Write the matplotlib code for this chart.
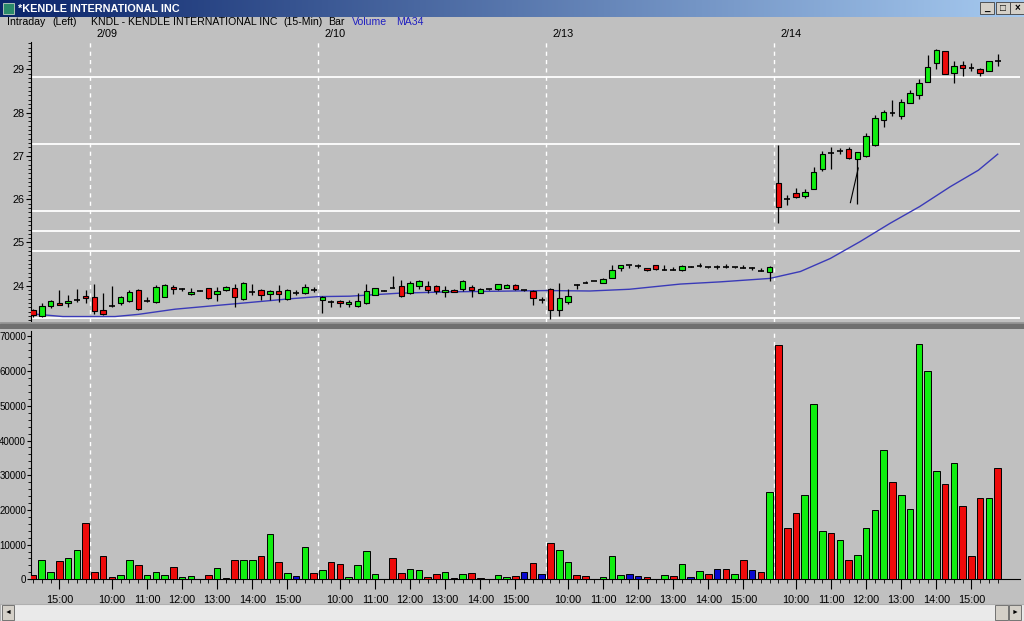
import numpy as np
import matplotlib.pyplot as plt
from matplotlib.patches import Rectangle
from matplotlib.ticker import MultipleLocator, FixedLocator

plt.rcParams['font.family'] = ['Liberation Sans', 'DejaVu Sans']

W, H = 1024, 621

# 15-min bars, 2/08 afternoon through 2/14
opens = [23.43, 23.30, 23.53, 23.595, 23.595, 23.665, 23.76,
         23.73, 23.43, 23.53, 23.595, 23.66, 23.90, 23.66, 23.63, 23.75, 23.98,
         23.91, 23.80, 23.89, 23.94, 23.81, 23.90, 23.96, 23.70, 23.86, 23.90,
         23.80, 23.88, 23.69, 23.84, 23.83, 23.91,
         23.67, 23.63, 23.66, 23.58, 23.53, 23.60, 23.79, 23.89, 23.96, 24.00,
         23.83, 24.00, 24.00, 24.00, 23.85, 23.90, 23.92, 23.98, 23.84, 23.92,
         23.92, 23.96, 24.02, 23.90, 23.89, 23.67,
         23.92, 23.43, 23.63, 24.02, 24.07, 24.11, 24.07, 24.18, 24.40, 24.47,
         24.46, 24.40, 24.47, 24.36, 24.36, 24.36, 24.44, 24.44, 24.43, 24.43,
         24.43, 24.43, 24.40, 24.40, 24.35, 24.32,
         26.37, 26.00, 26.135, 26.07, 26.24, 26.69, 27.07, 27.12, 27.15, 26.92,
         27.00, 27.25, 27.84, 28.02, 27.91, 28.23, 28.41, 28.70, 29.14, 29.43,
         28.91, 29.10, 29.03, 29.00, 28.95, 29.19]
highs = [23.46, 23.60, 23.67, 23.90, 23.79, 23.92, 23.90,
         24.03, 23.83, 23.99, 23.76, 23.90, 23.93, 23.73, 24.01, 24.03, 24.01,
         23.95, 23.96, 23.90, 23.95, 23.98, 24.00, 24.03, 24.08, 24.03, 23.92,
         23.90, 24.02, 23.92, 23.90, 24.03, 23.98,
         23.76, 23.67, 23.67, 23.67, 23.83, 24.04, 23.95, 23.90, 24.23, 24.13,
         24.12, 24.13, 24.10, 24.02, 24.00, 23.92, 24.13, 24.02, 23.94, 23.93,
         24.05, 24.03, 24.03, 23.91, 23.90, 23.73,
         23.94, 24.06, 23.92, 24.04, 24.10, 24.12, 24.17, 24.48, 24.49, 24.47,
         24.50, 24.41, 24.48, 24.47, 24.44, 24.49, 24.45, 24.52, 24.44, 24.47,
         24.50, 24.44, 24.47, 24.44, 24.41, 24.46,
         27.25, 26.10, 26.26, 26.24, 26.74, 27.12, 27.21, 27.18, 27.21, 27.09,
         27.54, 27.94, 28.06, 28.29, 28.31, 28.51, 28.77, 29.33, 29.46, 29.43,
         29.18, 29.18, 29.15, 29.02, 29.20, 29.35]
lows = [23.27, 23.27, 23.48, 23.55, 23.52, 23.63, 23.60,
        23.36, 23.32, 23.52, 23.56, 23.63, 23.44, 23.63, 23.61, 23.73, 23.81,
        23.87, 23.79, 23.88, 23.70, 23.66, 23.88, 23.52, 23.67, 23.78, 23.67,
        23.67, 23.63, 23.67, 23.79, 23.80, 23.86,
        23.38, 23.52, 23.52, 23.52, 23.52, 23.58, 23.78, 23.88, 23.95, 23.75,
        23.80, 23.92, 23.83, 23.81, 23.73, 23.85, 23.89, 23.75, 23.83, 23.91,
        23.90, 23.95, 23.90, 23.89, 23.56, 23.61,
        23.23, 23.30, 23.59, 23.92, 24.06, 24.10, 24.06, 24.17, 24.35, 24.40,
        24.41, 24.35, 24.37, 24.36, 24.36, 24.35, 24.44, 24.44, 24.42, 24.38,
        24.42, 24.42, 24.40, 24.36, 24.35, 24.12,
        25.46, 25.86, 26.02, 26.02, 26.23, 26.66, 26.70, 27.04, 26.92, 25.90,
        26.97, 27.23, 27.66, 27.91, 27.86, 28.21, 28.31, 28.70, 29.00, 28.89,
        28.68, 28.85, 28.97, 28.85, 28.95, 29.08]
closes = [23.32, 23.53, 23.64, 23.557, 23.64, 23.665, 23.71,
          23.42, 23.35, 23.53, 23.73, 23.86, 23.47, 23.66, 23.98, 24.02, 23.92,
          23.92, 23.86, 23.89, 23.72, 23.88, 23.98, 23.75, 24.06, 23.86, 23.79,
          23.88, 23.81, 23.90, 23.84, 23.98, 23.91,
          23.75, 23.63, 23.61, 23.63, 23.64, 23.89, 23.94, 23.89, 23.96, 23.76,
          24.06, 24.12, 23.90, 23.89, 23.90, 23.86, 24.11, 23.90, 23.92, 23.92,
          24.03, 24.02, 23.92, 23.90, 23.71, 23.67,
          23.43, 23.71, 23.76, 24.02, 24.07, 24.11, 24.15, 24.36, 24.47, 24.47,
          24.46, 24.36, 24.38, 24.36, 24.36, 24.46, 24.44, 24.46, 24.43, 24.43,
          24.43, 24.43, 24.40, 24.40, 24.35, 24.43,
          25.83, 26.00, 26.06, 26.17, 26.63, 27.04, 27.07, 27.12, 26.95, 27.08,
          27.47, 27.87, 28.01, 28.00, 28.25, 28.45, 28.69, 29.06, 29.45, 28.89,
          29.08, 29.02, 29.02, 28.92, 29.20, 29.18]
volume = [1350, 5700, 2200, 5200, 6250, 8550, 16350,
          2200, 6650, 800, 1250, 5700, 4050, 1100, 2200, 1250, 3550,
          800, 1000, 200, 1100, 3350, 400, 5500, 5500, 5500, 6650,
          13100, 5000, 1750, 1000, 9200, 1750,
          2600, 4900, 4500, 800, 4050, 8250, 1450, 200, 6150, 1750,
          2900, 2600, 600, 1450, 2200, 400, 1450, 1750, 300, 100,
          1250, 800, 900, 2000, 4600, 1450,
          10600, 8450, 5000, 1250, 900, 200, 800, 6800, 1250, 1550,
          900, 600, 200, 1250, 900, 4300, 600, 2300, 1550, 2900,
          2900, 1550, 5700, 2700, 2000, 25300,
          67500, 14700, 19000, 24200, 50500, 14000, 13300, 11400, 5500, 7000,
          14700, 20000, 37300, 28100, 24200, 20200, 67800, 59900, 31300, 27400,
          33400, 21000, 6800, 23400, 23300, 32000]
vol_colors = list("rggrggr"
                  "rrrggrgggrgggrgkrggrgrgbgr"
                  "grrgggggrrggrrgrgrrgggrbrb"
                  "rggrrggggbbrggrgbgrbrgrbrg"
                  "rrrgggrgrggggrgggggrgrrrgr")

# MA34 line (bar index, value)
ma_idx = [0, 3.4, 9.35, 12, 16.2, 22.8, 29.3, 32.5, 36.1, 41.8, 47.5, 58.6,
          63.5, 68, 73.8, 78.3, 84, 87.5, 90.9, 94.3, 97.7, 101.1, 104.6,
          107.8, 110]
ma_val = [23.35, 23.29, 23.29, 23.34, 23.46, 23.58, 23.70, 23.75, 23.76,
          23.83, 23.86, 23.89, 23.88, 23.92, 24.04, 24.09, 24.17, 24.33,
          24.63, 25.02, 25.44, 25.83, 26.29, 26.67, 27.04]

hlines = [28.82, 27.27, 25.73, 25.27, 24.81, 23.25]
trend_x = [93.2, 94.1]
trend_y = [25.92, 26.72]

day_breaks = [6.5, 32.5, 58.5, 84.5]
day_labels = ['2/09', '2/10', '2/13', '2/14']
hour_labels = ['15:00'] + ['10:00', '11:00', '12:00', '13:00', '14:00', '15:00'] * 4

GREEN, RED, BLUE = '#10ee10', '#ee0a0a', '#0a0ad0'
cmap = {'g': GREEN, 'r': RED, 'b': BLUE, 'k': '#600000'}
BG = '#c0c0c0'
FS = 7.8


def box(l, t, r, b):
    return [l / W, 1 - b / H, (r - l) / W, (b - t) / H]


fig = plt.figure(figsize=(W / 100, H / 100), dpi=100, facecolor=BG)

n = len(closes)
x = np.arange(n)
xlim = (-0.23, 112.54)

# ---- price pane
ax = fig.add_axes(box(31, 42, 1020, 322), facecolor=BG)
ax.set_xlim(*xlim)
ax.set_ylim(23.164, 29.63)
for s in ['top', 'right', 'bottom']:
    ax.spines[s].set_visible(False)
ax.spines['left'].set_linewidth(0.8)
ax.set_xticks([])
ax.yaxis.set_major_locator(MultipleLocator(1))
ax.yaxis.set_minor_locator(MultipleLocator(0.1))
ax.tick_params(axis='y', which='major', length=3.5, width=0.8, pad=1, labelsize=FS)
ax.tick_params(axis='y', which='minor', length=2, width=0.6)

for h in hlines:
    ax.axhline(h, color='white', lw=1.3, zorder=1)
for b in day_breaks:
    ax.axvline(b, color='white', lw=1, ls=(0, (3, 3)), zorder=1)

o = np.array(opens); c = np.array(closes)
hi = np.array(highs); lo = np.array(lows)
ax.vlines(x, lo, hi, color='black', lw=0.9, zorder=3)
doji = np.abs(c - o) < 0.025
body_col = np.where(c > o, GREEN, RED)
nd = ~doji
ax.bar(x[nd], np.abs(c - o)[nd], bottom=np.minimum(o, c)[nd], width=0.62,
       color=body_col[nd], edgecolor='black', lw=0.8, zorder=4)
ax.hlines(c[doji], x[doji] - 0.33, x[doji] + 0.33, color='black', lw=1.2, zorder=4)
ax.plot(ma_idx, ma_val, color='#3a3ab8', lw=1, zorder=2)
ax.plot(trend_x, trend_y, color='black', lw=0.8, zorder=3)

for b, lab in zip(day_breaks, day_labels):
    ax.annotate(lab, xy=(b, 1), xycoords=('data', 'axes fraction'),
                xytext=(6, 3), textcoords='offset pixels', ha='left',
                va='bottom', fontsize=FS, annotation_clip=False)

# ---- volume pane
av = fig.add_axes(box(31, 331, 1020, 579.3), facecolor=BG)
av.set_xlim(*xlim)
av.set_ylim(0, 71560)
for s in ['top', 'right']:
    av.spines[s].set_visible(False)
av.spines['left'].set_linewidth(0.8)
av.spines['bottom'].set_linewidth(0.8)
for b in day_breaks:
    av.axvline(b, color='white', lw=1, ls=(0, (3, 3)), zorder=1)
av.bar(x, volume, width=0.75, color=[cmap[k] for k in vol_colors],
       edgecolor='black', lw=0.7, zorder=3)
av.yaxis.set_major_locator(MultipleLocator(10000))
av.yaxis.set_minor_locator(MultipleLocator(2000))
av.tick_params(axis='y', which='major', length=3, width=0.8, pad=0.5, labelsize=7)
av.tick_params(axis='y', which='minor', length=2, width=0.6)

day_starts = [7, 33, 59, 85]
hour_pos = [3] + [s + k for s in day_starts for k in (2, 6, 10, 14, 18, 22)]
av.xaxis.set_major_locator(FixedLocator(hour_pos))
av.set_xticklabels(hour_labels)
av.xaxis.set_minor_locator(FixedLocator(list(x)))
av.tick_params(axis='x', which='major', length=7, width=0.8, pad=4, labelsize=FS)
av.tick_params(axis='x', which='minor', length=3, width=0.6)

# ---- pane separator
sep = fig.add_axes(box(0, 322, 1024, 329))
sep.set_xlim(0, 1); sep.set_ylim(0, 7)
sep.axis('off')
sep.add_patch(Rectangle((0, 0), 1, 7, color='#9a9a9a'))
sep.add_patch(Rectangle((0, 1.5), 1, 3.5, color='#707070'))

# ---- header line
HF = 7.6
yh = 1 - 22 / H
fig.text(7 / W, yh, 'Intraday', fontsize=HF, va='center')
fig.text(52 / W, yh, '(Left)', fontsize=HF, va='center')
fig.text(91 / W, yh, 'KNDL - KENDLE INTERNATIONAL INC', fontsize=HF, va='center')
fig.text(283 / W, yh, '(15-Min)', fontsize=HF, va='center')
fig.text(328 / W, yh, 'Bar', fontsize=HF, va='center')
fig.text(352 / W, yh, 'Volume', fontsize=HF, va='center', color='#2020c0')
fig.text(396 / W, yh, 'MA34', fontsize=HF, va='center', color='#2020c0')

# ---- window title bar
tb = fig.add_axes(box(0, 0, 1024, 17))
grad = np.linspace(0, 1, 512)
c1 = np.array([10, 36, 106]) / 255
c2 = np.array([166, 202, 240]) / 255
img = (c1[None, :] * (1 - grad[:, None]) + c2[None, :] * grad[:, None])[None, :, :]
tb.imshow(img, aspect='auto', extent=(0, 1024, 17, 0))
tb.set_xlim(0, 1024); tb.set_ylim(17, 0)
tb.axis('off')
tb.add_patch(Rectangle((3, 3), 11, 11, facecolor='#2a8a6a', edgecolor='#c0d0c0', lw=0.6))
tb.text(18, 8.5, '*KENDLE INTERNATIONAL INC', color='white', fontsize=7.8,
        fontweight='bold', va='center', ha='left')
for bx, sym in [(980, '_'), (996, '\u25a1'), (1010, '\u00d7')]:
    tb.add_patch(Rectangle((bx, 2), 14, 12, facecolor='#d4d0c8', edgecolor='#404040', lw=0.6))
    tb.text(bx + 7, 8, sym, fontsize=7, ha='center', va='center', fontweight='bold')

# ---- scrollbar
sb = fig.add_axes(box(0, 604, 1024, 621), facecolor='#eaeaea')
sb.set_xlim(0, 1024); sb.set_ylim(17, 0)
sb.set_xticks([]); sb.set_yticks([])
for s in sb.spines.values():
    s.set_color('#b0b0b0')
for bx, sym in [(2, '\u25c4'), (1009, '\u25ba')]:
    sb.add_patch(Rectangle((bx, 1), 12, 15, facecolor='#d4d0c8', edgecolor='#606060', lw=0.6))
    sb.text(bx + 6, 8.5, sym, fontsize=5, ha='center', va='center')
sb.add_patch(Rectangle((995, 1), 13, 15, facecolor='#d4d0c8', edgecolor='#606060', lw=0.6))

fig.savefig('out.png', dpi=100, facecolor=BG)
